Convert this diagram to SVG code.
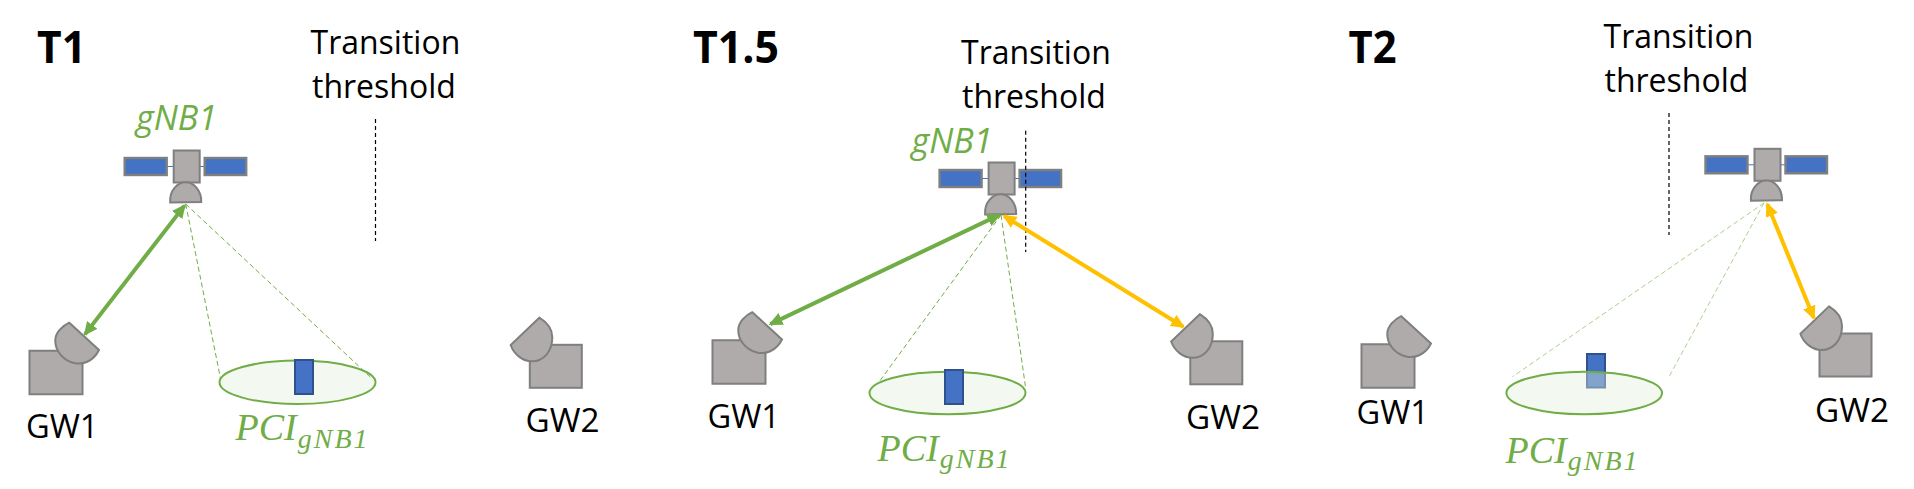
<svg xmlns="http://www.w3.org/2000/svg" xmlns:xlink="http://www.w3.org/1999/xlink" width="1914" height="489" viewBox="0 0 1914 489">
<style>
.bg{fill:#fff}
.gray{fill:#AFABAB;stroke:#7F7F7F;stroke-width:2}
.panel{fill:#4472C4;stroke:#7F7F7F;stroke-width:2.4}
.arm{stroke:#4472C4;stroke-width:1;fill:none}
.title{font:bold 45px "Open Sans","Liberation Sans",sans-serif;fill:#000}
.lbl{font:32px "Open Sans","Liberation Sans",sans-serif;fill:#000}
.sat-name{font:italic 34px "Open Sans","Liberation Sans",sans-serif;fill:#70AD47}
.pci{font:italic 38px "Liberation Serif",serif;fill:#70AD47}
.sub{font-size:28px;letter-spacing:2px}
.cell{fill:#E2EFDA;fill-opacity:.4;stroke:#70AD47;stroke-width:2}
.ue{fill:#4472C4;stroke:#2F528F;stroke-width:2}
.thr{stroke:#000;stroke-width:1.2;stroke-dasharray:4 3;fill:none}
.beam{stroke:#70AD47;stroke-width:1;stroke-dasharray:5 3;fill:none}
.beam-faint{stroke:#A9D18E;stroke-width:1;stroke-dasharray:5 3;fill:none}
.link-g{stroke:#70AD47;stroke-width:4;fill:none;marker-start:url(#ag);marker-end:url(#ag)}
.link-o{stroke:#FFC000;stroke-width:4;fill:none;marker-start:url(#ao);marker-end:url(#ao)}
</style>
<defs>
<marker id="ag" markerUnits="userSpaceOnUse" markerWidth="16" markerHeight="14" refX="12" refY="6.5" orient="auto-start-reverse"><path d="M0 0L14 6.5L0 13Z" fill="#70AD47"/></marker>
<marker id="ao" markerUnits="userSpaceOnUse" markerWidth="16" markerHeight="14" refX="12" refY="6.5" orient="auto-start-reverse"><path d="M0 0L14 6.5L0 13Z" fill="#FFC000"/></marker>
<g id="sat">
<path class="arm" d="M-21 0H18"/>
<rect class="panel" x="-62" y="-8.500" width="42" height="17"/>
<rect class="panel" x="18" y="-8.500" width="41.500" height="17"/>
<rect class="gray" x="-13" y="-16" width="26" height="32"/>
<path class="gray" d="M-16.500 36C-17.500 24-9 15.800-1 15.800C7 15.800 15 24 14.500 35.500Z"/>
</g>
<g id="gwl">
<rect class="gray" x="-26.500" y="-21.750" width="53" height="43.500"/>
<path class="gray" d="M13.300-49.800L43-22.500C37-10.500 26-7.500 18-9.500C6-12.500-1-22.500-.7-32.500C-.5-39.500 6-46.500 13.300-49.800Z"/>
</g>
<g id="gwr">
<rect class="gray" x="-26" y="-21.500" width="52" height="43"/>
<path class="gray" d="M-16.500-48.600L-45.100-21.300C-42-12-33-5-24-5C-12-5-3.500-15-3.500-29C-3.500-37-9-44-16.500-48.600Z"/>
</g>
</defs>
<rect class="bg" width="1914" height="489"/>

<g id="t1">
<text class="title" x="37" y="62.700" textLength="49" lengthAdjust="spacingAndGlyphs">T1</text>
<g id="t1-threshold-label"><text class="lbl" x="310.500" y="53.500">Transition</text><text class="lbl" x="312" y="97.800">threshold</text></g>
<g id="t1-gnb1"><use href="#sat" x="186.700" y="166.500"/><text class="sat-name" x="136" y="130" textLength="81" lengthAdjust="spacingAndGlyphs">gNB1</text></g>
<g id="t1-gw1"><use href="#gwl" x="56" y="372.500"/><text class="lbl" x="26" y="438.300" textLength="72.500" lengthAdjust="spacingAndGlyphs">GW1</text></g>
<g id="t1-gw2"><use href="#gwr" x="555.800" y="366.300"/><text class="lbl" x="525.500" y="432.300" textLength="74" lengthAdjust="spacingAndGlyphs">GW2</text></g>
<g id="t1-cell"><ellipse class="cell" cx="297.500" cy="382.300" rx="78" ry="21.700"/><rect class="ue" x="295" y="360" width="18" height="34"/><text class="pci" x="235.500" y="440">PCI<tspan class="sub" dx="1" dy="7.500">gNB1</tspan></text></g>
</g>

<g id="t15">
<text class="title" x="693" y="62.700" textLength="86" lengthAdjust="spacingAndGlyphs">T1.5</text>
<g id="t15-threshold-label"><text class="lbl" x="961" y="63.500">Transition</text><text class="lbl" x="962" y="107.800">threshold</text></g>
<g id="t15-gnb1"><use href="#sat" x="1001.600" y="178.500"/><text class="sat-name" x="911.500" y="152.700" textLength="81" lengthAdjust="spacingAndGlyphs">gNB1</text></g>
<g id="t15-gw1"><use href="#gwl" x="739" y="362"/><text class="lbl" x="707.500" y="427.700" textLength="72.500" lengthAdjust="spacingAndGlyphs">GW1</text></g>
<g id="t15-gw2"><use href="#gwr" x="1216.300" y="362.800"/><text class="lbl" x="1186" y="429" textLength="74" lengthAdjust="spacingAndGlyphs">GW2</text></g>
<g id="t15-cell"><ellipse class="cell" cx="947.500" cy="393" rx="78" ry="21.300"/><rect class="ue" x="945" y="370" width="18" height="34"/><text class="pci" x="877.500" y="460.700">PCI<tspan class="sub" dx="1" dy="7.500">gNB1</tspan></text></g>
</g>

<g id="t2">
<text class="title" x="1348.500" y="62.700" textLength="48" lengthAdjust="spacingAndGlyphs">T2</text>
<g id="t2-threshold-label"><text class="lbl" x="1603.500" y="47.500">Transition</text><text class="lbl" x="1604.500" y="91.800">threshold</text></g>
<g id="t2-gnb1"><use href="#sat" x="1767.500" y="164.800"/></g>
<g id="t2-gw1"><use href="#gwl" x="1388" y="366"/><text class="lbl" x="1356.500" y="424" textLength="72.500" lengthAdjust="spacingAndGlyphs">GW1</text></g>
<g id="t2-gw2"><use href="#gwr" x="1845.500" y="355"/><text class="lbl" x="1815" y="421.700" textLength="74" lengthAdjust="spacingAndGlyphs">GW2</text></g>
<g id="t2-cell"><rect class="ue" x="1587" y="354" width="18" height="33.500"/><ellipse class="cell" cx="1584.200" cy="393" rx="77.800" ry="21.300"/><text class="pci" x="1505.500" y="462.700">PCI<tspan class="sub" dx="1" dy="7.500">gNB1</tspan></text></g>
</g>

<g id="connectors">
<path class="thr" d="M375.500 119V241"/>
<path class="beam" d="M185.700 204L220.400 378M185.700 204L371.400 378"/>
<path class="link-g" d="M184.500 205.600L84.900 334.400"/>
<path class="thr" d="M1025.700 130.700V252"/>
<path class="beam" d="M1001 215L878.800 382.300M1001 215L1025.700 388.300"/>
<path class="link-g" d="M999.400 214.900L770.400 324.100"/>
<path class="link-o" d="M1004.100 216L1183.300 326.700"/>
<path class="thr" d="M1669 113V235"/>
<path class="beam-faint" d="M1764 203L1512.500 376.700M1764 203L1669 376.700"/>
<path class="link-o" d="M1767.300 204.200L1813.800 318.100"/>
</g>
</svg>
